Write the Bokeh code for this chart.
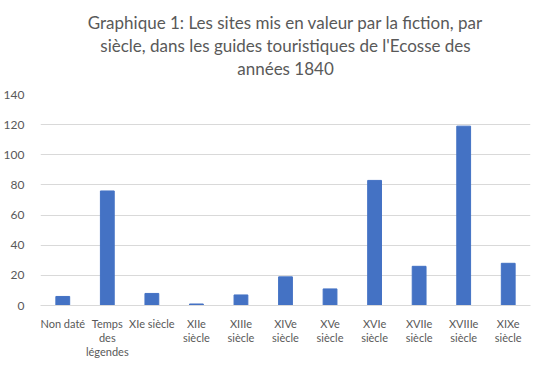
from bokeh.plotting import figure
from bokeh.models import Title, Range1d, SingleIntervalTicker
from bokeh.embed import file_html
from bokeh.resources import INLINE

categories = ["Non daté", "Temps\ndes\nlégendes", "XIe siècle", "XIIe\nsiècle", "XIIIe\nsiècle",
              "XIVe\nsiècle", "XVe\nsiècle", "XVIe\nsiècle", "XVIIe\nsiècle", "XVIIIe\nsiècle", "XIXe\nsiècle"]
values = [6, 76, 8, 1, 7, 19, 11, 83, 26, 119, 28]
title_lines = ["Graphique 1: Les sites mis en valeur par la fiction, par",
               "siècle, dans les guides touristiques de l'Ecosse des",
               "années 1840"]

FONT = "Lato"
GREY = "#595959"

p = figure(x_range=categories, width=546, height=361, output_backend="svg",
           toolbar_location=None, min_border_left=29, min_border_right=16,
           min_border_bottom=10, min_border_top=0)
p.y_range = Range1d(0, 140)

p.add_layout(Title(text=" ", text_font_size="12px", standoff=0), "above")
for line in reversed(title_lines):
    p.add_layout(Title(text=line, align="center", text_font=FONT, text_font_size="17px",
                       text_color=GREY, text_font_style="normal", standoff=0), "above")
p.add_layout(Title(text=" ", text_font_size="7px", standoff=0), "above")

p.vbar(x=categories, top=values, width=0.31, color="#4472C4")

p.outline_line_color = None
p.xgrid.grid_line_color = None
p.ygrid.grid_line_color = "#D9D9D9"
p.yaxis.ticker = SingleIntervalTicker(interval=20)
p.yaxis.axis_line_color = None
p.yaxis.major_tick_line_color = None
p.yaxis.minor_tick_line_color = None
p.xaxis.axis_line_color = "#D9D9D9"
p.xaxis.major_tick_line_color = None
p.xaxis.minor_tick_line_color = None
p.yaxis.major_label_text_font = FONT
p.yaxis.major_label_text_font_size = "12px"
p.yaxis.major_label_text_color = GREY
p.xaxis.major_label_text_font = FONT
p.xaxis.major_label_text_font_size = "11px"
p.xaxis.major_label_text_color = GREY
p.xaxis.major_label_text_line_height = 1.1
p.yaxis.major_label_standoff = 10
p.xaxis.major_label_standoff = 5

open("out.html", "w").write(file_html(p, INLINE))
